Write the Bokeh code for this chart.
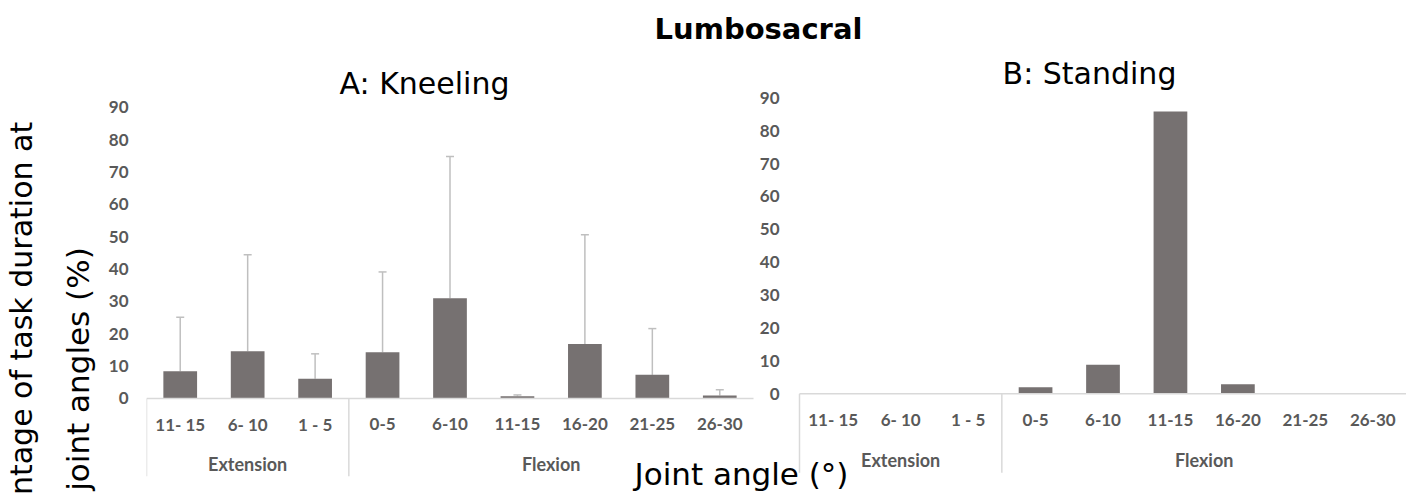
import math
from bokeh.plotting import figure
from bokeh.layouts import row
from bokeh.models import (FactorRange, Range1d, ColumnDataSource, Whisker, TeeHead,
                          Label, FixedTicker)
from bokeh.transform import dodge
from bokeh.core.properties import value
from bokeh.embed import file_html
from bokeh.resources import INLINE

# ---------------- data ----------------
panels = ["A", "B"]
panel_titles = ["A: Kneeling", "B: Standing"]
groups = ["Extension", "Extension", "Extension",
          "Flexion", "Flexion", "Flexion", "Flexion", "Flexion", "Flexion"]
angles = ["11- 15", "6- 10", "1 - 5", "0-5", "6-10", "11-15", "16-20", "21-25", "26-30"]
kneeling_mean = [8.4, 14.6, 6.1, 14.3, 31.0, 0.7, 16.8, 7.3, 0.9]
kneeling_sd = [16.7, 29.8, 7.7, 24.8, 43.8, 0.4, 33.8, 14.3, 1.8]
standing_mean = [0, 0, 0, 2.0, 8.8, 85.8, 2.9, 0, 0]
y_ticks = [0, 10, 20, 30, 40, 50, 60, 70, 80, 90]

chart_title = "Lumbosacral"
x_title = "Joint angle (°)"
y_title = ["Percentage of task duration at", "joint angles (%)"]

# ---------------- style ----------------
BAR = "#767171"
ERR = "#bfbfbf"
AXIS = "#d9d9d9"
TICK = "#595959"
TICK_FONT = "Lato"
TITLE_FONT = "DejaVu Sans"

H = 493
W_LEFT = 100          # strip holding the y-axis title
W_MAIN = 1306
BORDER = 46           # room for the left y axis of panel A
GROUP_PAD = 0.682
BASE_SHIFT = 0.35     # renderer baseline correction (fraction of font size)

# ---------------- y-axis title strip ----------------
ft = figure(width=W_LEFT, height=H, x_range=Range1d(0, W_LEFT), y_range=Range1d(0, H),
            toolbar_location=None, output_backend="svg", x_axis_location=None,
            y_axis_location=None, min_border=0, outline_line_color=None)
ft.grid.visible = False
yt_sizes = [30, 31]
tsrc_y = ColumnDataSource(dict(
    x=[31 - BASE_SHIFT * yt_sizes[0], 88 - BASE_SHIFT * yt_sizes[1]],
    y=[H - 349, H - 368.5], t=y_title, s=[f"{s}px" for s in yt_sizes]))
ft.text(x="x", y="y", text="t", source=tsrc_y, angle=math.pi / 2,
        text_align="center", text_baseline="alphabetic",
        text_font=value(TITLE_FONT), text_font_size="s", text_color="black")

# ---------------- main figure ----------------
fa = [("A", g, a) for g, a in zip(groups, angles)]
fb = [("B", g, a) for g, a in zip(groups, angles)]
x_range = FactorRange(*(fa + fb), factor_padding=0, subgroup_padding=0,
                      group_padding=GROUP_PAD, range_padding=0)
yA = (-29.35, 122.96)
yB = (-30.31, 119.58)

p = figure(width=W_MAIN, height=H, x_range=x_range, y_range=Range1d(*yA),
           x_axis_location=None, toolbar_location=None, output_backend="svg",
           min_border_left=BORDER, min_border_right=0, min_border_top=0,
           min_border_bottom=0, outline_line_color=None)
p.extra_y_ranges = {"right": Range1d(*yB)}
p.grid.visible = False

ax = p.yaxis[0]
ax.ticker = FixedTicker(ticks=y_ticks)
ax.axis_line_color = None
ax.major_tick_line_color = None
ax.minor_tick_line_color = None
ax.major_tick_out = 0
ax.major_tick_in = 0
ax.major_label_standoff = 18
ax.major_label_text_font = TICK_FONT
ax.major_label_text_font_style = "bold"
ax.major_label_text_font_size = "17px"
ax.major_label_text_color = TICK

nsyn = 18 + GROUP_PAD
frame_w = W_MAIN - BORDER
x0_page = W_LEFT + BORDER
def px_x(px):
    return (px - x0_page) / frame_w * nsyn
def px_y(py):
    return yA[0] + (H - py) / H * (yA[1] - yA[0])

# ---------------- panels ----------------
for factors, yname, means, sds in [(fa, "default", kneeling_mean, kneeling_sd),
                                   (fb, "right", standing_mean, None)]:
    src = ColumnDataSource(dict(x=factors, top=means))
    p.vbar(x="x", top="top", width=0.5, source=src, fill_color=BAR,
           line_color=None, y_range_name=yname)
    if sds is not None:
        esrc = ColumnDataSource(dict(x=factors, lower=means,
                                     upper=[m + s for m, s in zip(means, sds)]))
        wk = Whisker(source=esrc, base="x", lower="lower", upper="upper",
                     dimension="height", line_color=ERR, line_width=1.5,
                     upper_head=TeeHead(size=8, line_color=ERR, line_width=1.5),
                     lower_head=None)
        p.add_layout(wk)

    lsrc = ColumnDataSource(dict(x0=[factors[0]], x1=[factors[-1]]))
    p.segment(x0=dodge("x0", -0.5, range=x_range), y0=0,
              x1=dodge("x1", 0.5, range=x_range), y1=0, source=lsrc,
              line_color=AXIS, line_width=1.5, y_range_name=yname)

    firsts = [factors[i] for i in range(len(factors))
              if i == 0 or groups[i] != groups[i - 1]]
    ssrc = ColumnDataSource(dict(x=firsts))
    p.segment(x0=dodge("x", -0.5, range=x_range), y0=0,
              x1=dodge("x", -0.5, range=x_range), y1=-24, source=ssrc,
              line_color=AXIS, line_width=1.5, y_range_name=yname)

    csrc = ColumnDataSource(dict(x=factors, t=angles))
    p.text(x="x", y=-7.9, text="t", source=csrc, text_align="center",
           text_baseline="middle", text_font=value(TICK_FONT),
           text_font_style="bold", text_font_size="17px", text_color=TICK,
           y_range_name=yname)

    gnames = []
    for g in groups:
        if g not in gnames:
            gnames.append(g)
    gsrc = ColumnDataSource(dict(x=[(factors[0][0], g) for g in gnames], t=gnames))
    p.text(x="x", y=-20.1, text="t", source=gsrc, text_align="center",
           text_baseline="middle", text_font=value(TICK_FONT),
           text_font_style="bold", text_font_size="18px", text_color=TICK,
           y_range_name=yname)

# right panel y tick labels
tsrc = ColumnDataSource(dict(x=[fb[0]] * len(y_ticks), y=y_ticks,
                             t=[str(t) for t in y_ticks]))
p.text(x=dodge("x", -0.5, range=x_range), y="y", text="t", source=tsrc,
       x_offset=-20, text_align="right", text_baseline="middle",
       text_font=value(TICK_FONT), text_font_style="bold",
       text_font_size="17px", text_color=TICK, y_range_name="right")

# ---------------- titles ----------------
def add_label(text, px, py, size, bold=False):
    p.add_layout(Label(x=px_x(px), y=px_y(py - BASE_SHIFT * size), text=text,
                       text_font=TITLE_FONT, text_font_size=f"{size}px",
                       text_font_style="bold" if bold else "normal",
                       text_color="black", text_align="center",
                       text_baseline="alphabetic"))

add_label(chart_title, 758, 39, 29, bold=True)
add_label(panel_titles[0], 424, 93, 30)
add_label(panel_titles[1], 1089, 83, 30)
add_label(x_title, 741, 484, 31)

layout = row(ft, p, spacing=0)
open("out.html", "w").write(file_html(layout, INLINE))
